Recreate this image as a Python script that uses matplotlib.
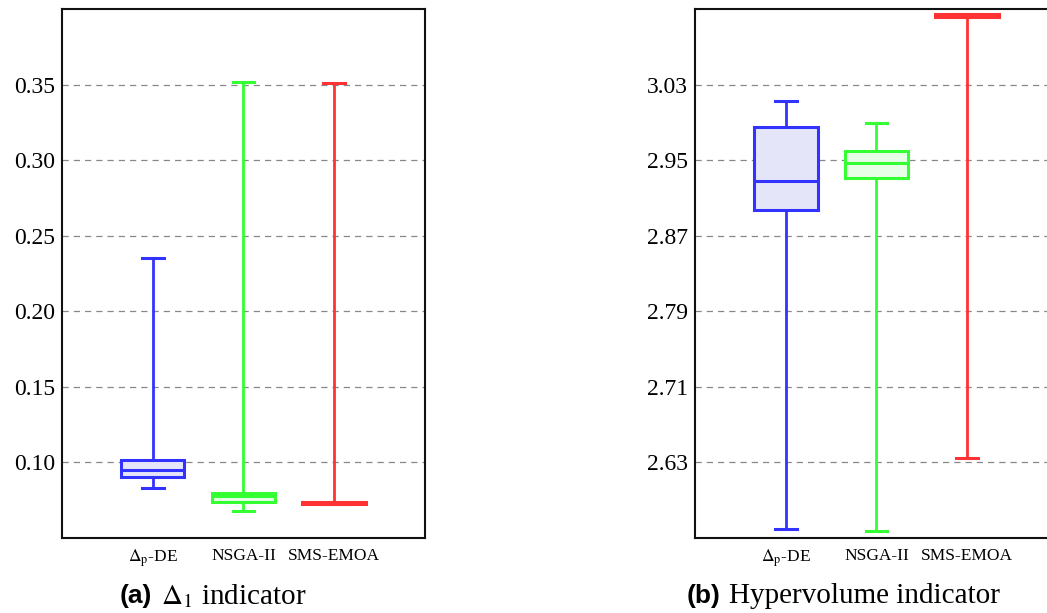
import matplotlib
matplotlib.use('Agg')
import matplotlib.pyplot as plt

# 字体设置
plt.rcParams['font.family'] = 'serif'
plt.rcParams['font.serif'] = ['Liberation Serif']
plt.rcParams['mathtext.fontset'] = 'stix'

labels = [r'$\Delta_{\mathrm{p}}$-DE', 'NSGA-II', 'SMS-EMOA']
colors = ['#3333ff', '#33ff33', '#ff3333']
fills = ['#e5e5fa', '#e6ffe6', '#ffe6e6']

# (a) Delta_1 indicator
d1_whislo = [0.0833, 0.0680, 0.0723]
d1_q1 = [0.0905, 0.0738, 0.0723]
d1_med = [0.0952, 0.0776, 0.0731]
d1_q3 = [0.1018, 0.0798, 0.0739]
d1_whishi = [0.235, 0.352, 0.351]
d1_ticks = [0.10, 0.15, 0.20, 0.25, 0.30, 0.35]
d1_lim = (0.05, 0.40)

# (b) Hypervolume indicator
hv_whislo = [2.5595, 2.5574, 2.635]
hv_q1 = [2.8975, 2.9307, 3.102]
hv_med = [2.9275, 2.9473, 3.1035]
hv_q3 = [2.9848, 2.9597, 3.105]
hv_whishi = [3.0123, 2.989, 3.105]
hv_ticks = [2.63, 2.71, 2.79, 2.87, 2.95, 3.03]
hv_lim = (2.55, 3.11)


def draw_box(ax, whislo, q1, med, q3, whishi, ticks, ylim):
    for i in range(len(labels)):
        stats = [dict(med=med[i], q1=q1[i], q3=q3[i],
                      whislo=whislo[i], whishi=whishi[i], fliers=[])]
        c = colors[i]
        ax.bxp(stats, positions=[i + 1], widths=0.7, capwidths=0.24,
               patch_artist=True, showfliers=False,
               boxprops=dict(facecolor=fills[i], edgecolor=c, linewidth=2.2),
               medianprops=dict(color=c, linewidth=2.2),
               whiskerprops=dict(color=c, linewidth=2.0),
               capprops=dict(color=c, linewidth=2.2))
    ax.set_xlim(0, 4)
    ax.set_ylim(*ylim)
    ax.set_yticks(ticks)
    ax.set_yticklabels(['%.2f' % t for t in ticks], fontsize=17)
    ax.set_xticks([1, 2, 3])
    ax.set_xticklabels(labels, fontsize=12.5)
    ax.tick_params(axis='both', length=0)
    ax.tick_params(axis='y', pad=5)
    ax.tick_params(axis='x', pad=7)
    ax.yaxis.grid(True, linestyle=(0, (5, 4)), color='#888888', linewidth=0.9)
    ax.set_axisbelow(True)
    for s in ax.spines.values():
        s.set_linewidth(1.5)
        s.set_color('#111111')


fig = plt.figure(figsize=(10.47, 6.13), dpi=100)
ax1 = fig.add_axes([0.0592, 0.1223, 0.3467, 0.863])
ax2 = fig.add_axes([0.6638, 0.1223, 0.3467, 0.863])

draw_box(ax1, d1_whislo, d1_q1, d1_med, d1_q3, d1_whishi, d1_ticks, d1_lim)
draw_box(ax2, hv_whislo, hv_q1, hv_med, hv_q3, hv_whishi, hv_ticks, hv_lim)

# 子图标题
cy = (613 - 596) / 613
fig.text(152 / 1047, cy, '(a)', family='Liberation Sans', weight='bold',
         fontsize=19, ha='right', va='center')
fig.text(161 / 1047, cy, r'$\Delta_1$ indicator', fontsize=21,
         ha='left', va='center')
fig.text(720 / 1047, cy, '(b)', family='Liberation Sans', weight='bold',
         fontsize=19, ha='right', va='center')
fig.text(729 / 1047, cy, 'Hypervolume indicator', fontsize=21,
         ha='left', va='center')

fig.savefig('out.png', dpi=100)
